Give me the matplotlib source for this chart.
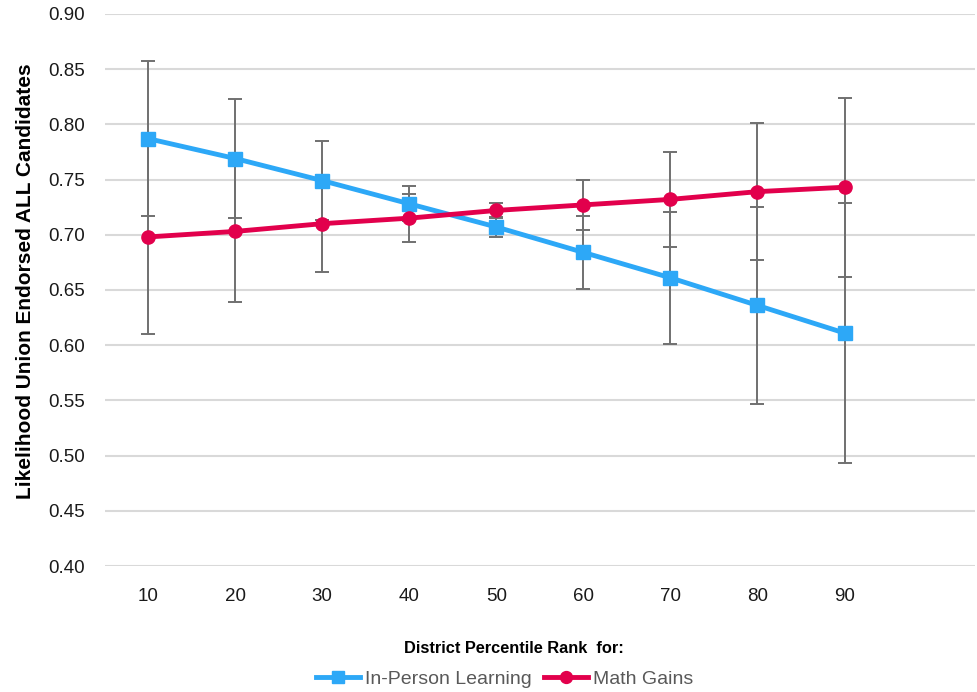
import numpy as np
import matplotlib.pyplot as plt

# percentile ranks (last slot left empty on the axis)
ranks = ['10', '20', '30', '40', '50', '60', '70', '80', '90']
in_person = [0.787, 0.769, 0.749, 0.728, 0.707, 0.684, 0.661, 0.636, 0.611]
in_person_err = [0.070, 0.054, 0.036, 0.016, 0.009, 0.033, 0.060, 0.089, 0.118]
math_gains = [0.698, 0.703, 0.710, 0.715, 0.722, 0.727, 0.732, 0.739, 0.743]
math_gains_err = [0.088, 0.064, 0.044, 0.022, 0.007, 0.023, 0.043, 0.062, 0.081]

plt.rcParams['font.family'] = ['Liberation Sans', 'DejaVu Sans']

fig = plt.figure(figsize=(9.78, 6.92), dpi=100)
ax = fig.add_axes([0.107, 0.182, 0.890, 0.798])

x = np.arange(len(ranks))
blue = '#2DA8F7'
red = '#E2004C'

ax.errorbar(x, in_person, yerr=in_person_err, fmt='none', ecolor='#707070',
            elinewidth=1.4, capsize=5, capthick=1.4, zorder=2)
ax.errorbar(x, math_gains, yerr=math_gains_err, fmt='none', ecolor='#707070',
            elinewidth=1.4, capsize=5, capthick=1.4, zorder=2)
ax.plot(x, in_person, color=blue, lw=3.5, marker='s', ms=9.5, zorder=3,
        label='In-Person Learning')
ax.plot(x, math_gains, color=red, lw=3.5, marker='o', ms=9.5, zorder=3,
        label='Math Gains')

ax.set_xlim(-0.5, len(ranks) + 0.5)
ax.set_xticks(x)
ax.set_xticklabels(ranks)
ax.set_ylim(0.40, 0.90)
ax.set_yticks(np.arange(0.40, 0.901, 0.05))
ax.set_yticklabels([f'{v:.2f}' for v in np.arange(0.40, 0.901, 0.05)])
ax.yaxis.grid(True, color='#D9D9D9', lw=1.5)
ax.set_axisbelow(True)
for s in ax.spines.values():
    s.set_visible(False)
ax.tick_params(length=0, labelsize=13.5, colors='#1a1a1a')
ax.tick_params(axis='y', pad=14)
ax.tick_params(axis='x', pad=16)

ax.set_ylabel('Likelihood Union Endorsed ALL Candidates', fontsize=15,
              fontweight='bold', labelpad=10)
ax.yaxis.label.set_y(0.516)
fig.text(0.525, 0.063, 'District Percentile Rank  for:', ha='center',
         va='center', fontsize=11.8, fontweight='bold')

leg = fig.legend(loc='center', bbox_to_anchor=(0.516, 0.019), ncol=2,
                 frameon=False, fontsize=14, handlelength=2.3,
                 handletextpad=0.25, columnspacing=0.6, markerscale=0.9)
for t in leg.get_texts():
    t.set_color('#595959')

fig.savefig('out.png', dpi=100)
